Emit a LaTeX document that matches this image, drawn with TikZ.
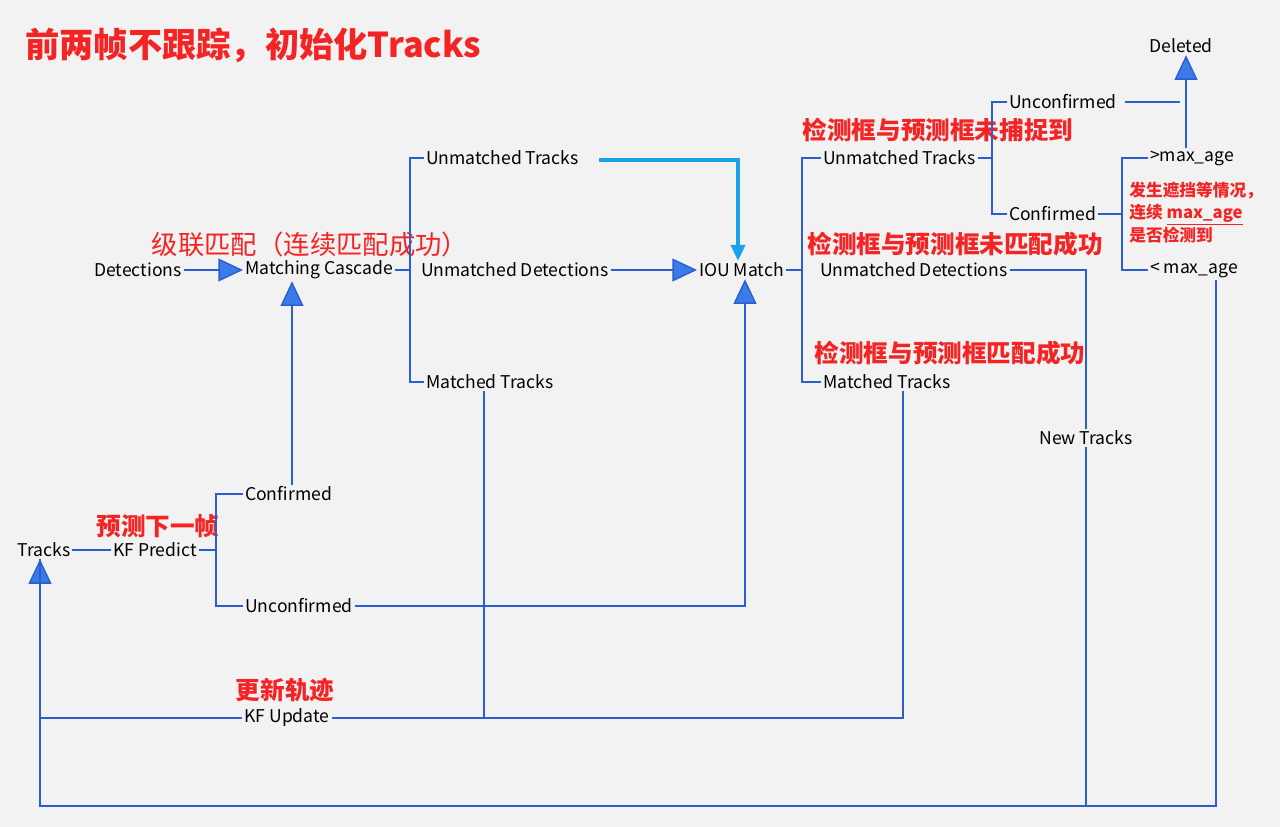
\documentclass[tikz,border=0pt]{standalone}
\usepackage{fontspec}
\setmainfont{Noto Sans CJK SC}
\usetikzlibrary{arrows.meta,positioning}
\definecolor{lineblue}{HTML}{2B5FD0}
\definecolor{tipblue}{HTML}{3A7BE8}
\definecolor{skyblue}{HTML}{1AA3E8}
\definecolor{notered}{HTML}{F42424}
\tikzset{
  lbl/.style={font=\fontsize{10}{12}\selectfont, inner sep=1pt},
  note/.style={font=\bfseries\fontsize{14}{16}\selectfont, text=notered, inner sep=0pt},
  link/.style={draw=lineblue, line width=0.8pt},
  arr/.style={link, -{Triangle[width=13pt,length=14pt,fill=tipblue]}}
}
\begin{document}
\begin{tikzpicture}[x=0.02cm,y=-0.02cm]
  \fill[fill=black!5] (0,0) rectangle (1280,827);
  \useasboundingbox (0,0) rectangle (1280,827);

  % Title
  \node[note, font=\bfseries\fontsize{19.5}{22}\selectfont, anchor=west] (title) at (25,45) {前两帧不跟踪，初始化Tracks};

  % Matching cascade stage
  \node[lbl] (det) at (138,270) {Detections};
  \node[lbl, anchor=west] (mc) at (243,270) {Matching Cascade};
  \node[lbl, anchor=west] (ut1) at (424,158) {Unmatched Tracks};
  \node[lbl, anchor=west] (ud1) at (419,270) {Unmatched Detections};
  \node[lbl, anchor=west] (mt1) at (424,382) {Matched Tracks};
  \node[note, font=\fontsize{15}{17}\selectfont] (ncascade) at (310,244) {级联匹配（连续匹配成功）};

  % IOU match stage
  \node[lbl, anchor=west] (iou) at (697,270) {IOU Match};
  \node[lbl, anchor=west] (ut2) at (821,158) {Unmatched Tracks};
  \node[lbl, anchor=west] (ud2) at (818,270) {Unmatched Detections};
  \node[lbl, anchor=west] (mt2) at (821,382) {Matched Tracks};
  \node[note] (nmiss) at (938,130) {检测框与预测框未捕捉到};
  \node[note] (nunm) at (955,244) {检测框与预测框未匹配成功};
  \node[note] (nmat) at (950,353) {检测框与预测框匹配成功};

  % Unmatched tracks split
  \node[lbl, anchor=west] (unc2) at (1007,102) {Unconfirmed};
  \node[lbl, anchor=west] (con2) at (1007,214) {Confirmed};
  \node[lbl, anchor=west] (gtage) at (1148,158) {>max\_age};
  \node[lbl, anchor=west] (ltage) at (1148,270) {< max\_age};
  \node[lbl] (del) at (1181,46) {Deleted};
  \node[note, font=\bfseries\fontsize{9.5}{12}\selectfont, align=left, anchor=west] (nocc) at (1129,213)
    {发生遮挡等情况，\\连续 \underline{max\_age}\\是否检测到};
  \node[lbl, fill=black!5] (new) at (1086,438) {New Tracks};

  % Tracks and Kalman filter
  \node[lbl] (trk) at (44,550) {Tracks};
  \node[lbl] (kfp) at (155,550) {KF Predict};
  \node[lbl, anchor=west] (con1) at (243,494) {Confirmed};
  \node[lbl, anchor=west] (unc1) at (243,606) {Unconfirmed};
  \node[note] (npred) at (158,526) {预测下一帧};
  \node[lbl, fill=black!5] (kfu) at (287,718) {KF Update};
  \node[note] (nupd) at (285,690) {更新轨迹};

  % Brackets
  \draw[link] (mc.east) -- (410,270);
  \draw[link] (ut1.west) -- (410,158) -- (410,382) -- (mt1.west);
  \draw[link] (iou.east) -- (802,270);
  \draw[link] (ut2.west) -- (802,158) -- (802,382) -- (mt2.west);
  \draw[link] (ut2.east) -- (992,158);
  \draw[link] (unc2.west) -- (992,102) -- (992,214) -- (con2.west);
  \draw[link] (con2.east) -- (1122,214);
  \draw[link] (gtage.west) -- (1122,158) -- (1122,270) -- (ltage.west);
  \draw[link] (kfp.east) -- (216,550);
  \draw[link] (con1.west) -- (216,494) -- (216,606) -- (unc1.west);

  % Messages
  \draw[arr] (det) -- (mc);
  \draw[arr] (ud1) -- (iou);
  \draw[arr, draw=skyblue, line width=2pt, -{Triangle[width=8pt,length=9pt,fill=skyblue]}] (ut1.east) ++(18,2) -| (iou.north -| 738,0);
  \draw[arr] (con1.north -| 292,0) -- (mc.south -| 292,0);
  \draw[arr] (unc1.east) -| (iou.south -| 745,0);
  \draw[link] (mt1.south -| 484,0) -- (484,718);
  \draw[link] (mt2.south -| 903,0) |- (kfu.east);
  \coordinate (corner) at (40,806);
  \draw[arr] (kfu.west) -| (trk.south -| corner);
  \draw[link] (trk) -- (kfp);
  \draw[link] (ud2.east) -| (new.north);
  \draw[link] (new.south) |- (corner) -- (trk.south -| corner);
  \draw[link] (1086,806) -- (1216,806) -- (ltage.south -| 1216,0);
  \draw[link] (unc2.east) ++(6,0) -- (1180,102);
  \draw[arr] (gtage.north -| 1186,0) -- (del.south -| 1186,0);
\end{tikzpicture}
\end{document}
